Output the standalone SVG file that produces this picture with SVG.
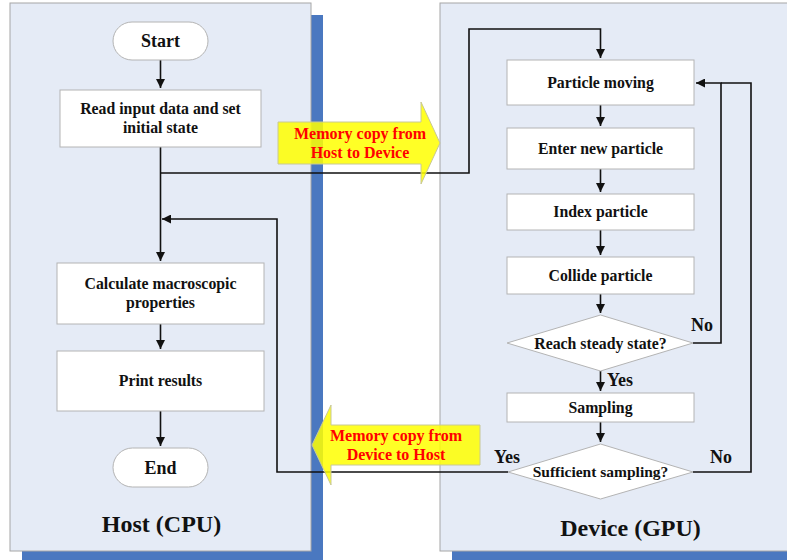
<svg xmlns="http://www.w3.org/2000/svg" width="787" height="560" viewBox="0 0 787 560">
<defs>
<style>
.panel{fill:#e5ebf6;stroke:#a6a6a6;stroke-width:1}
.shadow{fill:#4a78c0}
.box{fill:#ffffff;stroke:#b4b4b4;stroke-width:1}
.t{font-family:"Liberation Serif","Times New Roman",serif;font-weight:bold;fill:#111;text-anchor:middle}
.n{font-size:15.8px}
.big{font-size:24px}
.lbl{font-size:18px}
.red{font-family:"Liberation Serif","Times New Roman",serif;font-weight:bold;fill:#ff0000;font-size:16px;text-anchor:middle}
.c{fill:none;stroke:#111;stroke-width:1.6}
.ya{fill:#ffff00;fill-opacity:0.85;stroke:#c8c896;stroke-width:1}
</style>
<marker id="ah" viewBox="0 0 10 10" refX="10" refY="5" markerWidth="9" markerHeight="9" markerUnits="userSpaceOnUse" orient="auto"><path d="M0,0 L10,5 L0,10 z" fill="#111"/></marker>
</defs>
<rect x="0" y="0" width="787" height="560" fill="#ffffff"/>
<g id="host-panel">
<rect class="shadow" x="22" y="15" width="301" height="545"/>
<rect class="panel" x="10" y="3" width="301" height="548"/>
<text class="t big" x="161.5" y="532">Host (CPU)</text>
</g>
<g id="device-panel">
<rect class="shadow" x="452" y="15" width="340" height="545"/>
<rect class="panel" x="440" y="3" width="352" height="548"/>
<text class="t big" x="630.5" y="536">Device (GPU)</text>
</g>
<g id="connectors">
<path class="c" d="M160.5,60 V88" marker-end="url(#ah)"/>
<path class="c" d="M160.5,147 V261" marker-end="url(#ah)"/>
<path class="c" d="M160.5,324 V349" marker-end="url(#ah)"/>
<path class="c" d="M160.5,411 V446" marker-end="url(#ah)"/>
<path class="c" d="M160.5,173 H469 V29 H600.5 V58" marker-end="url(#ah)"/>
<path class="c" d="M508,472 H277 V219 H162" marker-end="url(#ah)"/>
<path class="c" d="M600.5,105 V126" marker-end="url(#ah)"/>
<path class="c" d="M600.5,169 V192" marker-end="url(#ah)"/>
<path class="c" d="M600.5,230 V255" marker-end="url(#ah)"/>
<path class="c" d="M600.5,294 V313" marker-end="url(#ah)"/>
<path class="c" d="M600.5,371 V391" marker-end="url(#ah)"/>
<path class="c" d="M600.5,422 V442" marker-end="url(#ah)"/>
<path class="c" d="M693,343 H721 V83 H696" marker-end="url(#ah)"/>
<path class="c" d="M693,472 H751 V83 H721"/>
</g>
<g id="copy-h2d">
<path class="ya" d="M278,122 H421 V102 L440,143 L421,184 V164 H278 Z"/>
<text class="red" x="360" y="139">Memory copy from</text>
<text class="red" x="360" y="158">Host to Device</text>
</g>
<g id="copy-d2h">
<path class="ya" d="M480,425 H331 V405 L312,445 L331,485 V465 H480 Z"/>
<text class="red" x="396" y="441">Memory copy from</text>
<text class="red" x="396" y="460">Device to Host</text>
</g>
<g id="start">
<rect class="box" x="113" y="22" width="95" height="38" rx="19"/>
<text class="t" x="160.5" y="47" font-size="18">Start</text>
</g>
<g id="read-input">
<rect class="box" x="60" y="90" width="201" height="57"/>
<text class="t n" x="160.5" y="114">Read input data and set</text>
<text class="t n" x="160.5" y="133">initial state</text>
</g>
<g id="calc-macro">
<rect class="box" x="57" y="263" width="207" height="61"/>
<text class="t n" x="160.5" y="289">Calculate macroscopic</text>
<text class="t n" x="160.5" y="308">properties</text>
</g>
<g id="print-results">
<rect class="box" x="57" y="351" width="207" height="60"/>
<text class="t n" x="160.5" y="386">Print results</text>
</g>
<g id="end">
<rect class="box" x="113" y="448" width="95" height="39" rx="19.5"/>
<text class="t" x="160.5" y="474" font-size="18">End</text>
</g>
<g id="particle-moving">
<rect class="box" x="507" y="60" width="187" height="45"/>
<text class="t n" x="600.5" y="88">Particle moving</text>
</g>
<g id="enter-new">
<rect class="box" x="507" y="128" width="187" height="41"/>
<text class="t n" x="600.5" y="154">Enter new particle</text>
</g>
<g id="index-particle">
<rect class="box" x="507" y="194" width="187" height="36"/>
<text class="t n" x="600.5" y="217">Index particle</text>
</g>
<g id="collide-particle">
<rect class="box" x="507" y="257" width="187" height="37"/>
<text class="t n" x="600.5" y="281">Collide particle</text>
</g>
<g id="steady-state">
<path class="box" d="M600.5,315 L693,343 L600.5,371 L507,343 Z"/>
<text class="t n" x="600.5" y="349">Reach steady state?</text>
</g>
<g id="sampling">
<rect class="box" x="507" y="393" width="187" height="29"/>
<text class="t n" x="600.5" y="413">Sampling</text>
</g>
<g id="sufficient">
<path class="box" d="M600.5,444 L693,472 L600.5,499 L508,472 Z"/>
<text class="t" font-size="15.5" x="600.5" y="477">Sufficient sampling?</text>
</g>
<g id="labels">
<text class="t lbl" x="702" y="331">No</text>
<text class="t lbl" x="620" y="386">Yes</text>
<text class="t lbl" x="507" y="463">Yes</text>
<text class="t lbl" x="721" y="463">No</text>
</g>
</svg>
